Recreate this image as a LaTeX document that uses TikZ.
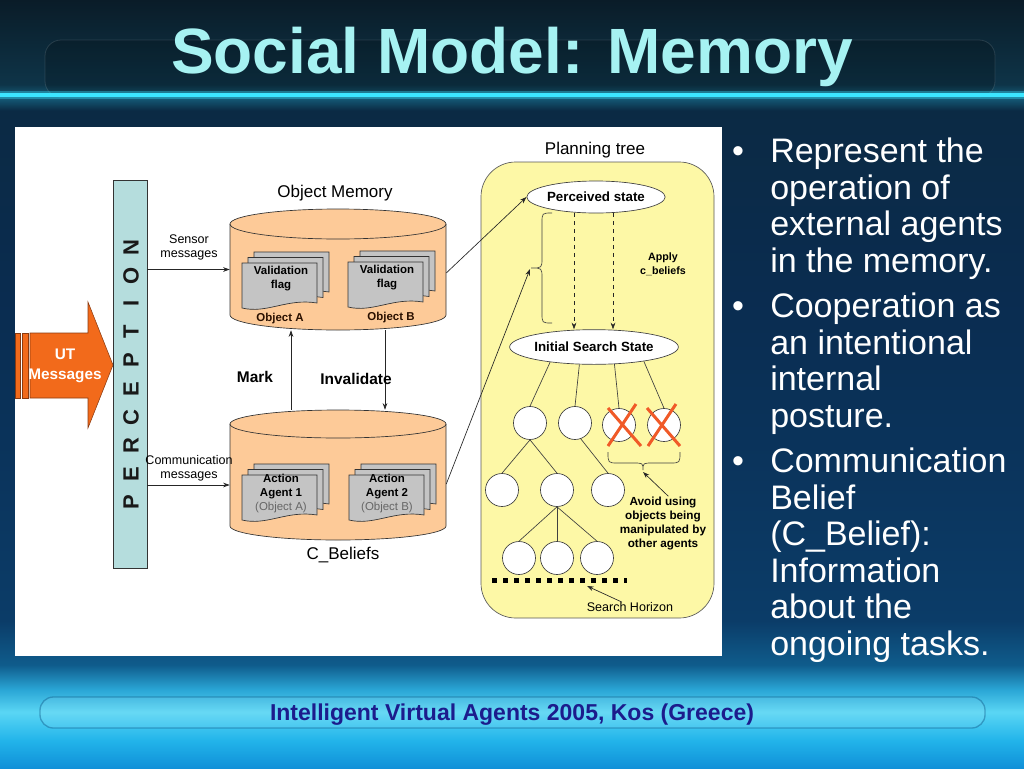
\documentclass[tikz,border=0pt]{standalone}
\usepackage{fontspec}
\setmainfont{Liberation Sans}
\usetikzlibrary{arrows.meta,shapes.geometric,calc}

\definecolor{bg1}{HTML}{1090D8}
\definecolor{bg2}{HTML}{22B4EA}
\definecolor{bg3}{HTML}{5AD6F4}
\definecolor{bg4}{HTML}{2AA6D6}
\definecolor{bg5}{HTML}{0F5C8C}
\definecolor{bg6}{HTML}{0B3C68}
\definecolor{bg7}{HTML}{0A2C50}
\definecolor{bg8}{HTML}{0B2A44}
\definecolor{bg9}{HTML}{15607C}
\definecolor{bg10}{HTML}{0E3448}
\definecolor{bg11}{HTML}{0A1C28}
\definecolor{glow}{HTML}{3CE6FF}
\definecolor{utor}{HTML}{F26A1B}
\definecolor{utbr}{HTML}{8A3A10}
\definecolor{percc}{HTML}{B5DDDD}
\definecolor{peach}{HTML}{FDCA98}
\definecolor{docg}{HTML}{C4C4C4}
\definecolor{pty}{HTML}{FDF8A6}
\definecolor{xred}{HTML}{F05A28}
\definecolor{titlec}{HTML}{A6F2F2}
\definecolor{footc}{HTML}{1C1C8C}
\definecolor{objc}{HTML}{2A1000}

\pgfdeclareverticalshading{bgshade}{100bp}{color(0bp)=(bg1); color(25bp)=(bg1); color(26.8bp)=(bg2); color(28.65bp)=(bg3); color(30.1bp)=(bg4); color(31.7bp)=(bg5); color(34.6bp)=(bg6); color(55.5bp)=(bg7); color(67.8bp)=(bg8); color(68.7bp)=(bg9); color(69.5bp)=(bg10); color(75bp)=(bg11); color(100bp)=(bg11)}

\tikzset{
  arr/.style={-{Stealth[length=5pt,width=3.5pt]}, line width=0.5pt, draw=black!85},
  tl/.style={line width=0.5pt, draw=black!75},
  tc/.style={circle, draw=black!75, line width=0.5pt, fill=white, minimum size=24.75pt, inner sep=0pt},
  ell/.style={ellipse, draw=black!75, line width=0.5pt, fill=white, inner sep=0pt, font=\bfseries\fontsize{10}{12}\selectfont},
  sml/.style={font=\fontsize{9.4}{10.5}\selectfont, align=center, inner sep=0pt},
  bsml/.style={font=\bfseries\fontsize{8.6}{10.5}\selectfont, align=center, inner sep=0pt},
  caplbl/.style={font=\fontsize{12.75}{15}\selectfont, inner sep=0pt},
  biglbl/.style={font=\bfseries\fontsize{11.6}{14}\selectfont, inner sep=0pt},
  hidbox/.style={inner sep=0pt, draw=none},
  bul/.style={font=\fontsize{25.5}{27.45}\selectfont, text=white, inner sep=0pt, anchor=base west},
  pics/docstack/.style={code={
    \foreach \dx/\dy in {12/-11, 6/-5.5, 0/0}{
      \path[draw=black!80, fill=docg, line width=0.5pt, shift={(\dx,\dy)}]
        (0,0) -- (75,0) -- (75,40) .. controls (45,35) and (25,51) .. (0,45) -- cycle;
    }
  }}
}

\begin{document}
\begin{tikzpicture}[x=0.75pt,y=-0.75pt]
\useasboundingbox (0,0) rectangle (1024,768);
% background
\shade[shading=bgshade] (0,0) rectangle (1024,768);
\fill[black, opacity=0.18, rounded corners=12pt] (45,40) rectangle (995,97);
\draw[white, opacity=0.12, rounded corners=12pt, line width=0.6pt] (45,40) rectangle (995,97);
\draw[glow, opacity=0.35, line width=6pt] (0,95) -- (1024,95);
\draw[glow, line width=2.5pt] (0,95) -- (1024,95);
\fill[white, opacity=0.08, rounded corners=10pt] (40,697) rectangle (985,728);
\draw[bg5, opacity=0.45, line width=1pt, rounded corners=10pt] (40,697) rectangle (985,728);

% title and footer
\node[anchor=base, text=titlec, font=\bfseries\fontsize{48}{56}\selectfont, inner sep=0pt] (title) at (512,73) {Social Model: Memory};
\node[anchor=base, text=footc, font=\bfseries\fontsize{17.25}{20}\selectfont, inner sep=0pt] (foot) at (512,720) {Intelligent Virtual Agents 2005, Kos (Greece)};

% bullets
\foreach \t/\y [count=\k] in {Represent the/162, operation of/199, external agents/235, in the memory./272,
  Cooperation as/317, an intentional/354, internal/390, posture./427,
  Communication/472, Belief/509, (C\_Belief):/545, Information/582, about the/618, ongoing tasks./655}{
  \node[bul] (bl\k) at (770,\y) {\t};
}
\node[bul, anchor=base] (d1) at (738,162) {•};
\node[bul, anchor=base] (d2) at (738,317) {•};
\node[bul, anchor=base] (d3) at (738,472) {•};

% white panel
\fill[white] (15,127) rectangle (722,656);

% UT messages arrow
\path[fill=utor, draw=utbr, line width=0.4pt] (15,333) rectangle (20,398);
\path[fill=utor, draw=utbr, line width=0.4pt] (22,333) rectangle (28,398);
\path[fill=utor, draw=utbr, line width=0.4pt] (30,333) -- (88,333) -- (88,302) -- (113,365) -- (88,428) -- (88,398) -- (30,398) -- cycle;
\node[font=\bfseries\fontsize{11.5}{15}\selectfont, text=white, align=center, inner sep=0pt] (ut) at (65,366) {UT\\Messages};

% perception bar
\node[draw=black!80, fill=percc, line width=0.5pt, minimum width=25.5pt, minimum height=291pt, inner sep=0pt] (perc) at (130,374) {};
\foreach \l [count=\i from 0] in {P,E,R,C,E,P,T,I,O,N}{
  \node[rotate=90, font=\bfseries\fontsize{16.5}{18}\selectfont, text=black!90, inner sep=0pt] (pl\i) at (131,502-\i*28.3) {\l};
}

% Object Memory cylinder
\fill[peach] (230,224) -- (230,315) arc[start angle=180, end angle=0, x radius=108, y radius=15] -- (446,224) arc[start angle=0, end angle=-180, x radius=108, y radius=15] -- cycle;
\draw[black!80, line width=0.5pt] (230,224) -- (230,315) arc[start angle=180, end angle=0, x radius=108, y radius=15] -- (446,224);
\draw[black!80, line width=0.5pt] (338,224) ellipse[x radius=108, y radius=15];
\node[hidbox, minimum width=162pt, minimum height=90.75pt] (om) at (338,269.5) {};
\node[caplbl] (omlbl) at (335,193) {Object Memory};
\pic at (242,263) {docstack};
\pic at (348,262) {docstack};
\node[bsml] (vf1) at (281,279) {Validation\\flag};
\node[bsml] (vf2) at (387,278) {Validation\\flag};
\node[bsml, text=objc] (oa) at (280,319) {Object A};
\node[bsml, text=objc] (ob) at (391,318) {Object B};

% C_Beliefs cylinder
\fill[peach] (230,424) -- (230,526) arc[start angle=180, end angle=0, x radius=108, y radius=14] -- (446,424) arc[start angle=0, end angle=-180, x radius=108, y radius=14] -- cycle;
\draw[black!80, line width=0.5pt] (230,424) -- (230,526) arc[start angle=180, end angle=0, x radius=108, y radius=14] -- (446,424);
\draw[black!80, line width=0.5pt] (338,424) ellipse[x radius=108, y radius=14];
\node[hidbox, minimum width=162pt, minimum height=97.5pt] (cb) at (338,475) {};
\node[caplbl] (cblbl) at (343,555) {C\_Beliefs};
\pic at (242,475) {docstack};
\pic at (349,475) {docstack};
\node[bsml] (aa1) at (281,494) {Action\\Agent 1\\{\mdseries\color{black!60}(Object A)}};
\node[bsml] (aa2) at (387,494) {Action\\Agent 2\\{\mdseries\color{black!60}(Object B)}};

% perception -> memories
\node[sml] (sm) at (189,247) {Sensor\\messages};
\node[sml] (cm) at (189,468) {Communication\\messages};
\draw[arr] (perc.east |- om.west) -- (om.west);
\coordinate (cbin) at ([yshift=-7.5pt]cb.west);
\draw[arr] (perc.east |- cbin) -- (cbin);

% Mark / Invalidate
\draw[arr] ([xshift=-35.25pt]cb.north) -- ([xshift=-35.25pt]om.south);
\draw[arr] ([xshift=35.25pt]om.south) -- ([xshift=35.25pt]cb.north);
\node[biglbl] (mark) at (255,377) {Mark};
\node[biglbl] (inval) at (356,379) {Invalidate};

% planning tree
\node[caplbl] (ptl) at (595,150) {Planning tree};
\node[draw=black!65, fill=pty, line width=0.5pt, rounded corners=26pt, minimum width=174.75pt, minimum height=342pt, inner sep=0pt] (pt) at (597.5,390) {};
\node[ell, minimum width=100.5pt, minimum height=24pt] (ps) at (596,197) {Perceived state};
\node[ell, minimum width=123pt, minimum height=26pt] (is) at (594,347) {Initial Search State};
\draw[arr, dashed] ([xshift=-16.5pt]ps.south) -- ([xshift=-16.5pt]ps.south |- is.north);
\draw[arr, dashed] ([xshift=12.75pt]ps.south) -- ([xshift=12.75pt]ps.south |- is.north);
\draw[tl] (552,213) .. controls (542,213) .. (542,223) -- (542,258) .. controls (542,268) .. (531,268) .. controls (542,268) .. (542,278) -- (542,313) .. controls (542,323) .. (552,323);
\coordinate (bracetip) at (530,269);
\node[bsml, font=\bfseries\fontsize{8}{10.5}\selectfont] (apply) at (663,264) {Apply\\c\_beliefs};

% memories -> planning tree
\draw[arr] ([yshift=-2.6pt]om.east) -- (ps.west);
\draw[arr] ([yshift=-6.75pt]cb.east) -- (bracetip);

% tree
\node[tc] (c1) at (530,423) {};
\node[tc] (c2) at (575,423) {};
\node[tc] (c3) at (619,425) {};
\node[tc] (c4) at (664,425) {};
\node[tc] (e1) at (502,490) {};
\node[tc] (e2) at (557,490) {};
\node[tc] (e3) at (608,490) {};
\node[tc] (f1) at (519,558) {};
\node[tc] (f2) at (557,558) {};
\node[tc] (f3) at (597,558) {};
\draw[tl] (is.199) -- (c1.north);
\draw[tl] (is.230) -- (c2.north);
\draw[tl] (is.320) -- (c3.north);
\draw[tl] (is.344) -- (c4.north);
\draw[tl] (c1.south) -- (e1.north);
\draw[tl] (c1.south) -- (e2.north);
\draw[tl] (c2.290) -- (e3.north);
\draw[tl] (e2.south) -- (f1.north);
\draw[tl] (e2.south) -- (f2.north);
\draw[tl] (e2.south) -- (f3.north);
% crosses
\draw[xred, line width=2.25pt] (608,408) -- (641,446) (608,446) -- (636,404);
\draw[xred, line width=2.25pt] (647,408) -- (680,446) (648,446) -- (676,404);
\draw[tl] (608,452) .. controls (608,463) .. (618,463) -- (633,463) .. controls (643,463) .. (643,470) .. controls (643,463) .. (653,463) -- (670,463) .. controls (680,463) .. (680,452);
\coordinate (btip) at (643,472);
\node[bsml, font=\bfseries\fontsize{8.8}{10.5}\selectfont] (avoid) at (663,523) {Avoid using\\objects being\\manipulated by\\other agents};
\draw[arr] ([xshift=4pt]avoid.north) -- (btip);

% search horizon
\draw[black, line width=3.75pt, dash pattern=on 3.75pt off 4.5pt] (492,580) -- (627,580);
\node[sml] (sh) at (630,607) {Search Horizon};
\coordinate (shp) at (587,586);
\draw[arr] ([xshift=-6pt]sh.north) -- (shp);
\end{tikzpicture}
\end{document}
